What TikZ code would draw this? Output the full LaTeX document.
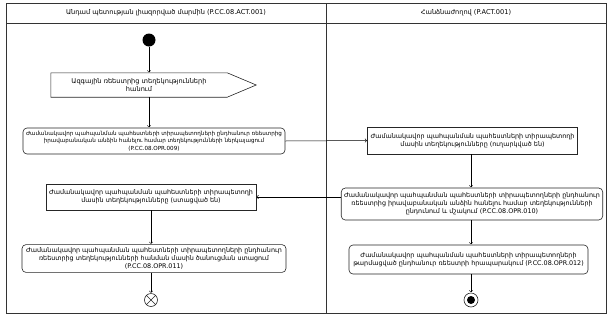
\documentclass[tikz,border=0pt]{standalone}
\usepackage{fontspec}
\setmainfont{DejaVu Sans}
\usetikzlibrary{positioning,calc}
\tikzset{
fl/.style={->,>=to,line width=0.5pt,shorten >=0.5pt},
ac/.style={draw=black!85,rounded corners=4pt,line width=0.6pt,align=center,inner sep=1mm,font=\fontsize{6.4}{8.2}\selectfont},
ob/.style={draw=black!85,line width=0.6pt,align=center,inner sep=1mm,font=\fontsize{6.4}{8.2}\selectfont},
hd/.style={font=\fontsize{6.6}{8}\selectfont},
}
\begin{document}
\begin{tikzpicture}[x=1pt,y=-1pt]
	\useasboundingbox (0,0) rectangle (611,317);
	% swimlanes
	\draw[line width=0.7pt,black!80] (6,3) rectangle (606,313);
	\draw[line width=0.6pt,black!80] (6,23) -- (606,23);
	\draw[line width=0.6pt,black!80] (326,3) -- (326,313);
	\node[hd] (h1) at (166,13) {Անդամ պետության լիազորված մարմին (P.CC.08.ACT.001)};
	\node[hd] (h2) at (466,13) {Հանձնաժողով (P.ACT.001)};

	% left lane
	\node[circle,fill=black,minimum size=13pt,inner sep=0] (st) at (149,40) {};
	\node[align=center,minimum width=176pt,minimum height=24pt,font=\fontsize{6.6}{8.2}\selectfont] (sg) at (139,85) {Ազգային ռեեստրից տեղեկությունների\\հանում};
	\draw[line width=0.6pt,black!85] (sg.north west) -- (sg.north east) -- ($(sg.east)+(29,0)$) -- (sg.south east) -- (sg.south west) -- cycle;
	\node[ac,minimum width=262pt,minimum height=26pt,font=\fontsize{5.6}{7.6}\selectfont] (a1) at (154,141) {Ժամանակավոր պահպանման պահեստների տիրապետողների ընդհանուր ռեեստրից\\իրավաբանական անձին հանելու համար տեղեկությունների ներկայացում\\(P.CC.08.OPR.009)};
	\node[ob,minimum width=199pt,minimum height=26pt] (o2) at (151,197) {Ժամանակավոր պահպանման պահեստների տիրապետողի\\մասին տեղեկությունները (ստացված են)};
	\node[ac,minimum width=264pt,minimum height=27pt] (a3) at (154,258.5) {Ժամանակավոր պահպանման պահեստների տիրապետողների ընդհանուր\\ռեեստրից տեղեկությունների հանման մասին ծանուցման ստացում\\(P.CC.08.OPR.011)};
	\node[circle,draw=black!85,line width=0.6pt,minimum size=13pt,inner sep=0] (fx) at (151,300) {};
	\draw[line width=0.6pt,black!85] (fx.north west) -- (fx.south east) (fx.north east) -- (fx.south west);

	% right lane
	\node[ob,minimum width=203pt,minimum height=27pt] (o1) at (472.5,140.5) {Ժամանակավոր պահպանման պահեստների տիրապետողի\\մասին տեղեկությունները (ուղարկված են)};
	\node[ac,minimum width=254pt,minimum height=32pt] (a2) at (472,204) {Ժամանակավոր պահպանման պահեստների տիրապետողների ընդհանուր\\ռեեստրից իրավաբանական անձին հանելու համար տեղեկությունների\\ընդունում և մշակում (P.CC.08.OPR.010)};
	\node[ac,minimum width=239pt,minimum height=29pt] (a4) at (468.5,259.5) {Ժամանակավոր պահպանման պահեստների տիրապետողների\\թարմացված ընդհանուր ռեեստրի հրապարակում (P.CC.08.OPR.012)};
	\node[circle,draw=black!85,line width=0.6pt,minimum size=14pt,inner sep=0] (fe) at (471,300) {};
	\node[circle,fill=black,minimum size=8pt,inner sep=0] (fe2) at (fe) {};

	% flows
	\draw[fl] (st) -- (st |- sg.north);
	\draw[fl] (st |- sg.south) -- (st |- a1.north);
	\draw[fl] (a1.east) -- (o1.west);
	\draw[fl] (o1.south -| fe) -- (fe |- a2.north);
	\draw[fl] (a2.west |- o2.east) -- (o2.east);
	\draw[fl] (o2.south -| fx) -- (fx |- a3.north);
	\draw[fl] (a2.south -| fe) -- (fe |- a4.north);
	\draw[fl] (fx |- a3.south) -- (fx.north);
	\draw[fl] (fe |- a4.south) -- (fe.north);
\end{tikzpicture}
\end{document}
